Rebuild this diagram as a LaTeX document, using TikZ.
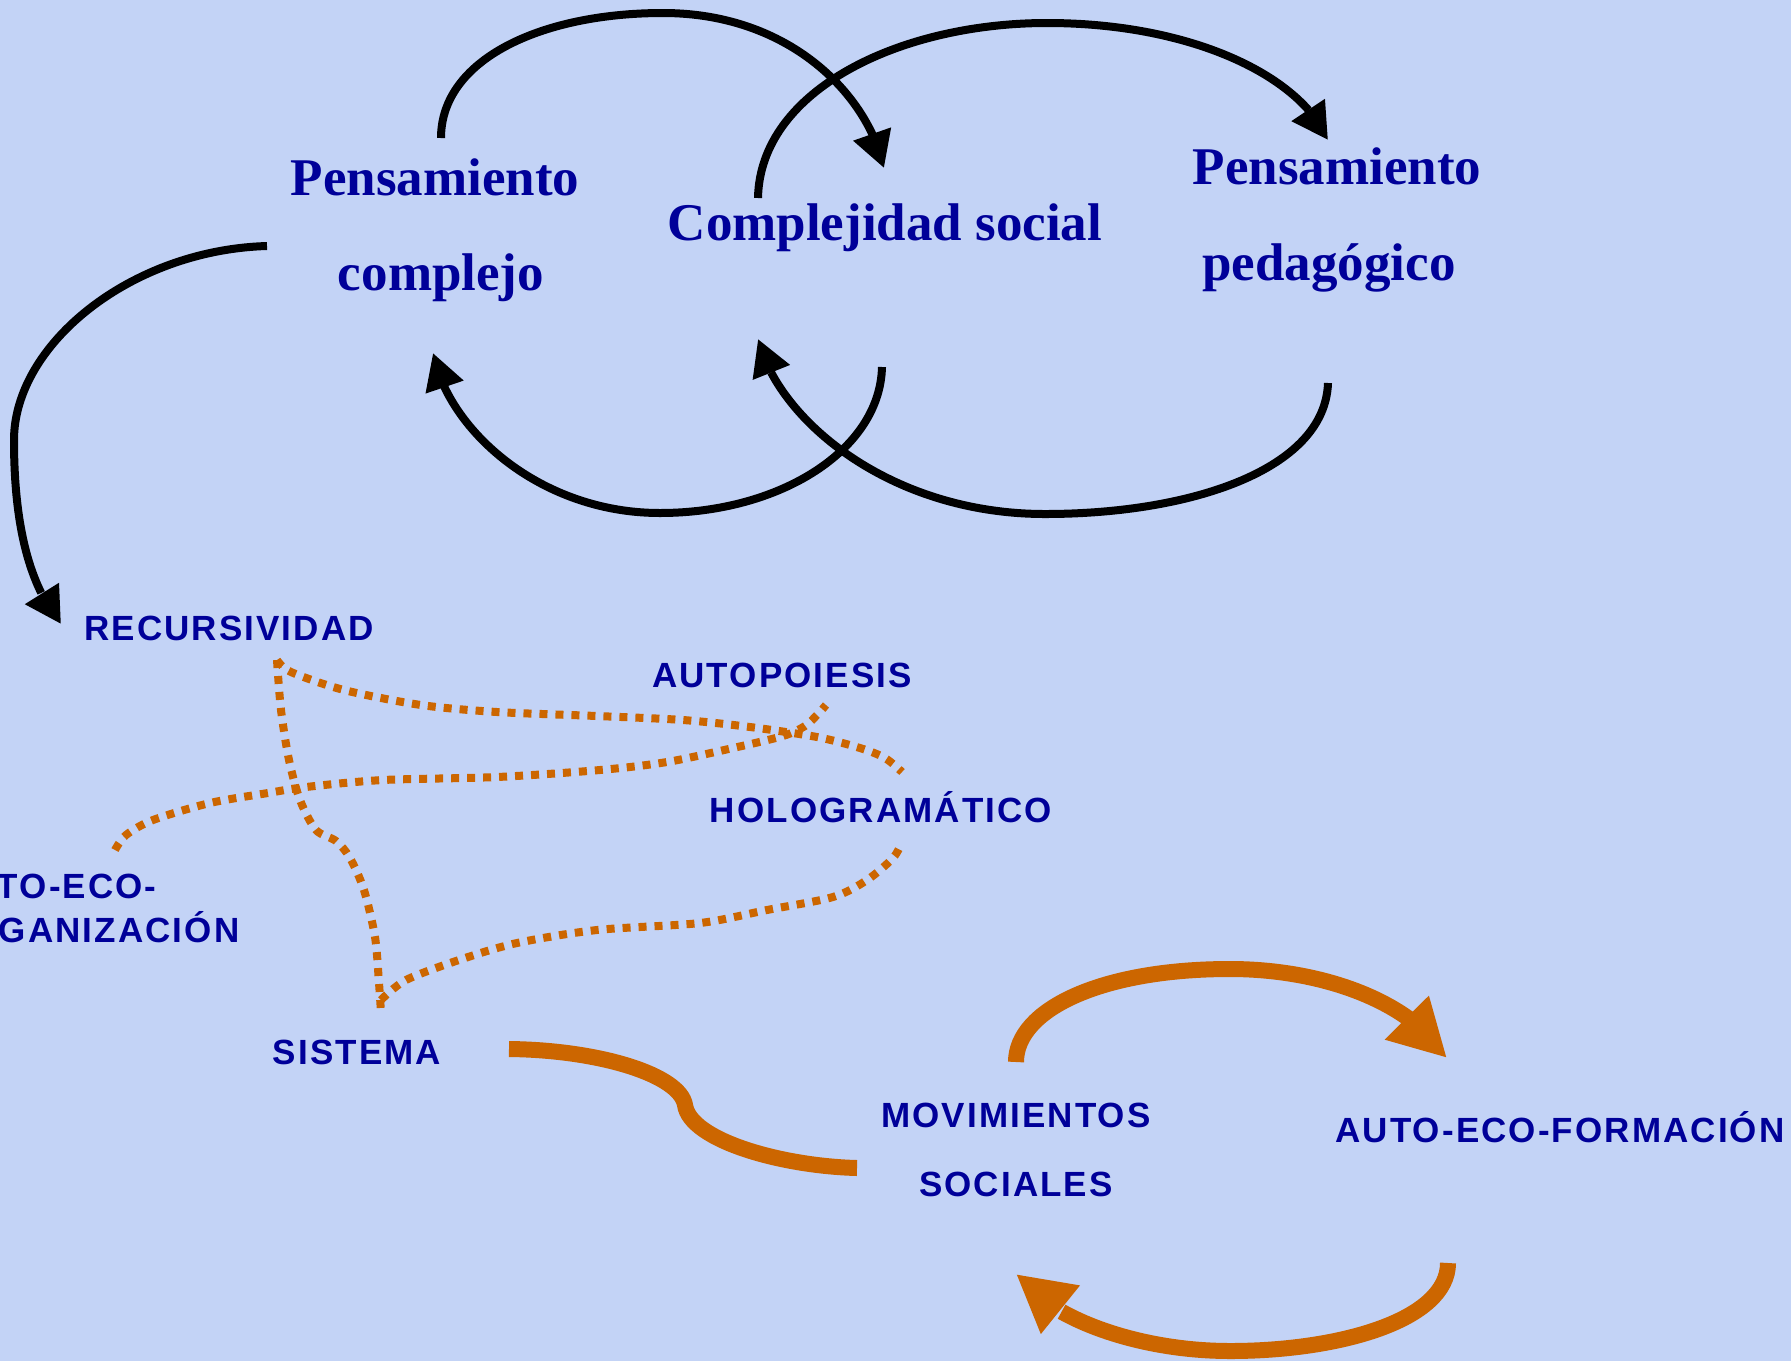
\documentclass[tikz,border=0pt]{standalone}
\usepackage{fontspec}
\setmainfont{Liberation Serif}
\newfontfamily\lblfont[LetterSpace=6]{Liberation Sans}
\usetikzlibrary{arrows.meta,bending}
\definecolor{bgc}{RGB}{195,211,246}
\definecolor{navy}{RGB}{0,0,153}
\definecolor{ocre}{RGB}{204,102,0}
\begin{document}
\begin{tikzpicture}[x=1pt,y=-1pt,
  serif/.style={font=\fontsize{53}{60}\selectfont\bfseries, text=navy, inner sep=0pt, anchor=base},
  lbl/.style={font={\lblfont\bfseries\fontsize{35}{40}\selectfont}, text=navy, inner sep=0pt, anchor=base},
  blackarc/.style={draw=black, line width=8pt, -{Triangle[length=36pt,width=38pt]}},
  orangearc/.style={draw=ocre, line width=16pt, -{Triangle[length=57pt,width=58pt]}},
  orangeline/.style={draw=ocre, line width=16pt},
  dots/.style={draw=ocre, line width=8pt, dash pattern=on 8pt off 8pt}]
\useasboundingbox (0,0) rectangle (1791,1361);
\clip (0,0) rectangle (1791,1361);
\fill[bgc] (0,0) rectangle (1791,1361);

% text nodes
\node[serif] (pc1) at (435,195) {Pensamiento};
\node[serif] (pc2) at (441,290) {complejo};
\node[serif] (cs) at (885,240) {Complejidad social};
\node[serif] (pp1) at (1337,184) {Pensamiento};
\node[serif] (pp2) at (1329,280) {pedagógico};
\node[lbl] (rec) at (229,640) {RECURSIVIDAD};
\node[lbl] (aut) at (782,687) {AUTOPOIESIS};
\node[lbl] (holo) at (881,822) {HOLOGRAMÁTICO};
\node[lbl, anchor=base west] (aeo1) at (-58,898) {AUTO-ECO-};
\node[lbl, anchor=base west] (aeo2) at (-58,942) {ORGANIZACIÓN};
\node[lbl] (sis) at (357,1064) {SISTEMA};
\node[lbl] (mov1) at (1016,1127) {MOVIMIENTOS};
\node[lbl] (mov2) at (1016,1196) {SOCIALES};
\node[lbl] (aef) at (1560,1142) {AUTO-ECO-FORMACIÓN};

% connector ends
\coordinate (pcTop) at (441,138);
\coordinate (csIn) at (884,168);
\coordinate (csTop) at (758,198);
\coordinate (ppIn) at (1328,140);
\coordinate (csBot) at (882,367);
\coordinate (pcIn) at (433,353);
\coordinate (ppBot) at (1328,383);
\coordinate (csInB) at (758,339);
\coordinate (pcLeft) at (267,246);
\coordinate (recIn) at (61,624);
\coordinate (recA) at (277,660);
\coordinate (sisTop) at (381,1013);
\coordinate (sisJ) at (381,1000);
\coordinate (holoTop) at (902,772);
\coordinate (holoBot) at (902,842);
\coordinate (autBot) at (826,705);
\coordinate (aeoTop) at (115,850);
\coordinate (sisR) at (509,1049);
\coordinate (movL) at (857,1168);
\coordinate (movTop) at (1016,1062);
\coordinate (aefIn) at (1447,1058);
\coordinate (aefBot) at (1448,1263);
\coordinate (movIn) at (1016,1274);

% black arcs
\draw[blackarc] (pcTop) .. controls (441,60) and (540,13) .. (663,13)
  .. controls (790,13) and (868,95) .. (csIn);
\draw[blackarc] (csTop) .. controls (760,90) and (900,23) .. (1047,23)
  .. controls (1190,23) and (1300,75) .. (ppIn);
\draw[blackarc] (csBot) .. controls (880,450) and (780,513) .. (660,513)
  .. controls (540,513) and (448,430) .. (pcIn);
\draw[blackarc] (ppBot) .. controls (1325,470) and (1190,514) .. (1045,514)
  .. controls (890,514) and (778,420) .. (csInB);
\draw[blackarc] (pcLeft) .. controls (130,250) and (14,345) .. (14,440)
  .. controls (14,540) and (35,592) .. (recIn);

% dotted orange links
\draw[dots] plot[smooth] coordinates {(recA) (281,710) (289,760) (300,800) (316,830) (336,841) (350,858) (364,890) (375,937) (379,983) (sisTop)};
\draw[dots] plot[smooth] coordinates {(recA) (291,672) (344,690) (421,705) (497,712) (597,716) (683,720) (750,727) (817,737) (860,748) (885,758) (holoTop)};
\draw[dots] plot[smooth] coordinates {(aeoTop) (126,835) (153,820) (210,803) (268,793) (306,787) (383,780) (497,777) (600,770) (667,762) (733,748) (783,736) (805,726) (817,715) (autBot)};
\draw[dots] plot[smooth] coordinates {(sisJ) (406,980) (459,960) (517,943) (597,930) (700,923) (767,910) (833,897) (867,880) (893,858) (holoBot)};

% orange thick lines
\draw[orangeline] (sisR) .. controls (600,1050) and (680,1075) .. (685,1105)
  .. controls (690,1140) and (780,1166) .. (movL);
\draw[orangearc] (movTop) .. controls (1016,1010) and (1100,969) .. (1230,969)
  .. controls (1320,969) and (1410,1000) .. (aefIn);
\draw[orangearc] (aefBot) .. controls (1448,1320) and (1340,1351) .. (1230,1351)
  .. controls (1140,1351) and (1050,1320) .. (movIn);
\end{tikzpicture}
\end{document}
